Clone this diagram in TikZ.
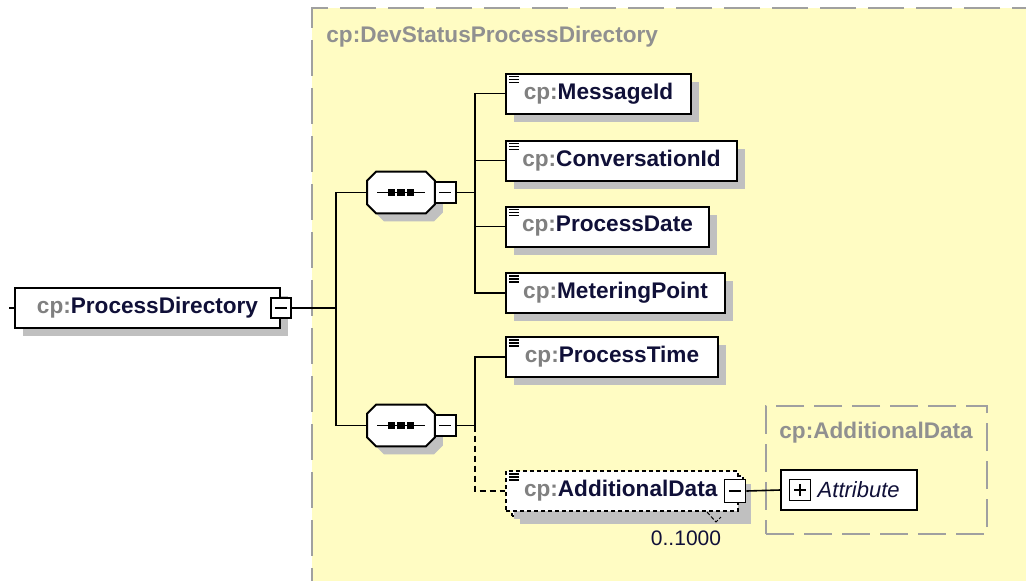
\documentclass[tikz,border=0pt]{standalone}
\usepackage{fontspec}
\setmainfont{Liberation Sans}
\usetikzlibrary{positioning,shadows}

\newcommand{\cpn}[1]{\textcolor{cpg}{cp:}#1}

\begin{document}
\begin{tikzpicture}[
            x=0.5pt,y=-0.5pt,
            font=\fontsize{11.3}{13}\selectfont\bfseries,
            shd/.style={drop shadow={shadow xshift=4pt,shadow yshift=-4pt,fill=shx,opacity=1}},
            box/.style={draw,line width=1pt,fill=white,minimum height=20pt,inner sep=0pt,text=nvx,anchor=west},
            elem/.style={box,shd,
                path picture={\draw[solid,line width=0.6pt] foreach \k in {1.5,3,4.5}
                    {([shift={(1.5pt,-\k pt)}]path picture bounding box.north west) -- ++(5pt,0)};}},
            seq/.style={minimum width=33.5pt,minimum height=20.5pt,inner sep=0pt},
            mbox/.style={draw,line width=0.8pt,fill=white,minimum size=10pt,inner sep=0pt,
                path picture={\draw[line width=0.8pt] ([xshift=-3pt]path picture bounding box.center)
                    -- ([xshift=3pt]path picture bounding box.center);}},
            pbox/.style={mbox,
                path picture={\draw[line width=0.8pt] ([xshift=-3pt]path picture bounding box.center)
                    -- ([xshift=3pt]path picture bounding box.center)
                    ([yshift=-3pt]path picture bounding box.center)
                    -- ([yshift=3pt]path picture bounding box.center);}},
            grp/.style={draw=gdx,line width=1pt,dash pattern=on 18pt off 6pt,fill=ylx,anchor=north west,inner sep=0pt},
            grplabel/.style={text=gdx!90!black,anchor=west,inner sep=0pt},
            conn/.style={line width=0.8pt},
            dconn/.style={conn,dash pattern=on 3pt off 2pt}
        ]
            \definecolor{ylx}{RGB}{255,252,195}
            \definecolor{shx}{RGB}{192,192,192}
            \definecolor{gdx}{RGB}{160,160,160}
            \definecolor{cpg}{RGB}{128,128,128}
            \definecolor{nvx}{RGB}{16,16,56}

            \useasboundingbox (0,0) rectangle (1026,580);

            % groups
            \node[grp,minimum width=370pt,minimum height=300pt] (dspd) at (311,7) {};
            \node[grplabel] (dspdlab) at (326,37) {cp:DevStatusProcessDirectory};
            \node[grp,minimum width=110.5pt,minimum height=64pt,dash pattern=on 14pt off 5pt] (adgrp) at (765,405) {};
            \node[grplabel] (adlab) at (779,433) {cp:AdditionalData};

            % root
            \node[box,shd,minimum width=132.5pt] (pd) at (14,308) {\cpn{ProcessDirectory}};
            \node[mbox] (pdm) at (pd.east) {};

            % sequences
            \node[seq] (seq1) at (401,192.5) {};
            \node[seq] (seq2) at (401,425.5) {};
            \foreach \s in {seq1,seq2} {
                \fill[shx,transform canvas={shift={(4pt,-4pt)}}]
                    ([xshift=4.5pt]\s.north west) -- ([xshift=-4.5pt]\s.north east)
                    -- ([yshift=-4.5pt]\s.north east) -- ([yshift=4.5pt]\s.south east)
                    -- ([xshift=-4.5pt]\s.south east) -- ([xshift=4.5pt]\s.south west)
                    -- ([yshift=4.5pt]\s.south west) -- ([yshift=-4.5pt]\s.north west) -- cycle;
                \draw[line width=1pt,fill=white]
                    ([xshift=4.5pt]\s.north west) -- ([xshift=-4.5pt]\s.north east)
                    -- ([yshift=-4.5pt]\s.north east) -- ([yshift=4.5pt]\s.south east)
                    -- ([xshift=-4.5pt]\s.south east) -- ([xshift=4.5pt]\s.south west)
                    -- ([yshift=4.5pt]\s.south west) -- ([yshift=-4.5pt]\s.north west) -- cycle;
                \draw[line width=0.7pt] ([xshift=-12pt]\s.center) -- ([xshift=12pt]\s.center);
                \foreach \d in {-4.8,0,4.8}
                    \fill ([xshift=\d pt]\s.center) +(-1.8pt,-1.8pt) rectangle +(1.8pt,1.8pt);
            }
            \node[mbox,minimum size=10.5pt,right=-0.5pt of seq1] (seq1m) {};
            \node[mbox,minimum size=10.5pt,right=-0.5pt of seq2] (seq2m) {};

            % elements
            \node[elem,minimum width=92.5pt]  (msg)   at (505,93.5)  {\cpn{MessageId}};
            \node[elem,minimum width=115.5pt] (conv)  at (505,160.5) {\cpn{ConversationId}};
            \node[elem,minimum width=101.5pt] (date)  at (505,226.5) {\cpn{ProcessDate}};
            \node[elem,minimum width=109.5pt] (meter) at (505,293)   {\cpn{MeteringPoint}};
            \node[elem,minimum width=106pt]   (ptime) at (505,357)   {\cpn{ProcessTime}};

            \node[box,shd,dash pattern=on 2pt off 1.5pt,minimum width=115.5pt] (addbk) at (511,496) {};
            \node[elem,shd/.style={},dash pattern=on 2pt off 1.5pt,text width=98pt,inner xsep=9pt,align=left]
                (add) at (505,491) {\cpn{AdditionalData}};
            \node[mbox,minimum width=10.5pt,minimum height=11.5pt] (addm) at ([xshift=-2pt]add.east) {};
            \node[font=\fontsize{10.5}{12}\selectfont,text=nvx] (addn) at (686,538) {0..1000};
            \coordinate (tk1) at (707,512);
            \coordinate (tk2) at (716,522);
            \coordinate (tk3) at (721,517);
            \draw[line width=0.5pt,dash pattern=on 2pt off 1pt] (tk1) -- (tk2) -- (tk3);

            \node[box,minimum width=68pt] (attr) at (780,490) {};
            \node[pbox,minimum size=10.5pt] (attrp) at (800,490) {};
            \node[right=3pt of attrp,font=\fontsize{11}{13}\selectfont\itshape,text=nvx,inner sep=0pt] (attrt) {Attribute};

            % connectors
            \coordinate (pin) at (9,308);
            \coordinate (j0) at (336,308);
            \coordinate (j1) at (475,192.5);
            \coordinate (j2) at (475,425.5);
            \draw[conn] (pin) -- (pd.west);
            \draw[conn] (pdm.east) -- (j0);
            \draw[conn] (seq1.west) -| (j0) |- (seq2.west);
            \draw[conn] (seq1m.east) -- (j1);
            \foreach \e in {msg,conv,date,meter}
                \draw[conn] (j1) |- (\e.west);
            \draw[conn] (seq2m.east) -- (j2) |- (ptime.west);
            \draw[dconn] (j2) |- (add.west);
            \draw[conn] (addm.east) -- (attr.west);
        \end{tikzpicture}
\end{document}
